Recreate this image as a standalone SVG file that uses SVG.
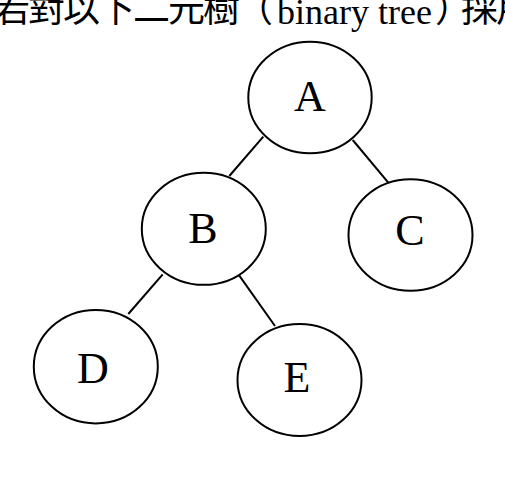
<svg xmlns="http://www.w3.org/2000/svg" width="505" height="480" viewBox="0 0 505 480">
<style>
.n ellipse{fill:#fff;stroke:#000;stroke-width:2}
.n text{font-family:"Liberation Serif","Times New Roman",serif;font-size:44px;text-anchor:middle;fill:#000}
.e line{stroke:#000;stroke-width:2}
.t{text-spacing-trim:space-all;fill:#000}
.cjk{font-family:"Noto Sans CJK TC","Noto Sans CJK SC",sans-serif;font-size:37px;letter-spacing:-2px}
.lat{font-family:"Liberation Serif","Times New Roman",serif;font-size:36px;letter-spacing:0}
.tight{letter-spacing:-12px}
</style>
<rect width="505" height="480" fill="#fff"/>
<g id="title">
<text class="t" y="22"><tspan class="cjk" x="-7">若對以下二元樹</tspan><tspan class="cjk" x="236">（</tspan><tspan class="lat" x="277" y="24">binary tree</tspan><tspan class="cjk tight" x="435" y="22">）</tspan><tspan class="cjk" x="461">採用</tspan></text>
</g>
<g id="edges" class="e">
<line x1="263.3" y1="136.7" x2="229.3" y2="176"/>
<line x1="352.7" y1="140" x2="388.3" y2="182.7"/>
<line x1="162.7" y1="274.3" x2="128.3" y2="314"/>
<line x1="239.3" y1="275.7" x2="275" y2="326"/>
</g>
<g id="A" class="n"><ellipse cx="310" cy="97.5" rx="61.7" ry="55.8"/><text x="310" y="110.7">A</text></g>
<g id="B" class="n"><ellipse cx="203.8" cy="228.8" rx="62" ry="56"/><text x="203" y="242.7">B</text></g>
<g id="C" class="n"><ellipse cx="410.5" cy="235" rx="62" ry="55.7"/><text x="410" y="245">C</text></g>
<g id="D" class="n"><ellipse cx="95.8" cy="366.7" rx="62" ry="56.7"/><text x="93" y="382.7">D</text></g>
<g id="E" class="n"><ellipse cx="299.5" cy="380" rx="62" ry="56"/><text x="297" y="392.3">E</text></g>
</svg>
